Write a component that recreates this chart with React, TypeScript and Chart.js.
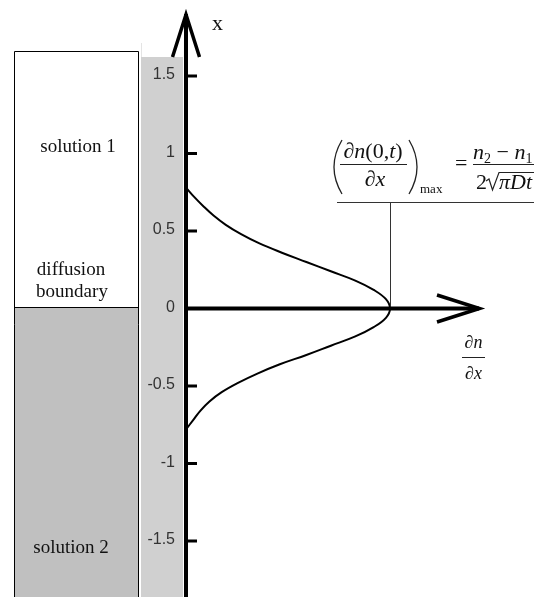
import React, { useEffect, useRef } from "react";
import { Chart, registerables } from "chart.js";

Chart.register(...registerables);

// vertical position x (value axis drawn vertically)
const positions = [0.78, 0.72, 0.66, 0.6, 0.54, 0.48, 0.42, 0.36, 0.3, 0.24, 0.18, 0.12, 0.06, 0, -0.06, -0.12, -0.18, -0.24, -0.3, -0.36, -0.42, -0.48, -0.54, -0.6, -0.66, -0.72, -0.78];
// concentration gradient dn/dx (relative to its maximum)
const gradient = [0, 0.04, 0.085, 0.135, 0.195, 0.27, 0.36, 0.47, 0.59, 0.71, 0.83, 0.92, 0.98, 1, 0.98, 0.92, 0.83, 0.71, 0.59, 0.46, 0.35, 0.255, 0.175, 0.115, 0.07, 0.035, 0];
const positionTicks = [1.5, 1, 0.5, 0, -0.5, -1, -1.5];
const tickLabels = ["1.5", "1", "0.5", "0", "-0.5", "-1", "-1.5"];
const peakPosition = 0;
const peakGradient = 1;
const formulaLevel = 0.69;
const boundaryPosition = 0;

const SERIF = '"Liberation Serif", "DejaVu Serif", serif';
const SANS = '"Liberation Sans", Arial, sans-serif';

type Run = { t: string; font: string; dy?: number };

function runsWidth(ctx: CanvasRenderingContext2D, runs: Run[]) {
  let w = 0;
  for (const r of runs) {
    ctx.font = r.font;
    w += ctx.measureText(r.t).width;
  }
  return w;
}

function drawRuns(ctx: CanvasRenderingContext2D, runs: Run[], x: number, baseline: number) {
  ctx.textAlign = "left";
  ctx.textBaseline = "alphabetic";
  let cx = x;
  for (const r of runs) {
    ctx.font = r.font;
    ctx.fillText(r.t, cx, baseline + (r.dy || 0));
    cx += ctx.measureText(r.t).width;
  }
  return cx;
}

const diagramPlugin = {
  id: "diagram",
  beforeDatasetsDraw(chart: any) {
    const ctx: CanvasRenderingContext2D = chart.ctx;
    const ys = chart.scales.y;
    const W = chart.width;
    const H = chart.height;
    ctx.save();
    ctx.fillStyle = "#ffffff";
    ctx.fillRect(0, 0, W, H);

    const yB = Math.round(ys.getPixelForValue(boundaryPosition)) - 2 + 0.5;

    // light gray strip behind tick labels
    ctx.fillStyle = "#d0d0d0";
    ctx.fillRect(141, 57, 42, H - 57);
    ctx.strokeStyle = "#e4e4e4";
    ctx.lineWidth = 1;
    ctx.beginPath();
    ctx.moveTo(141.5, 43);
    ctx.lineTo(141.5, 57);
    ctx.stroke();

    // solution 2 box (gray)
    ctx.fillStyle = "#c0c0c0";
    ctx.fillRect(14.5, yB, 124, H - yB);
    ctx.strokeStyle = "#000";
    ctx.lineWidth = 1;
    ctx.beginPath();
    ctx.moveTo(14.5, 51.5);
    ctx.lineTo(14.5, H);
    ctx.moveTo(138.5, 51.5);
    ctx.lineTo(138.5, H);
    ctx.moveTo(14.5, 51.5);
    ctx.lineTo(138.5, 51.5);
    ctx.moveTo(14.5, yB);
    ctx.lineTo(138.5, yB);
    ctx.stroke();

    ctx.fillStyle = "#111";
    ctx.font = `19px ${SERIF}`;
    ctx.textAlign = "center";
    ctx.textBaseline = "alphabetic";
    ctx.fillText("solution 1", 78, 152);
    ctx.fillText("diffusion", 71, 275);
    ctx.fillText("boundary", 72, 297);
    ctx.fillText("solution 2", 71, 553);

    // tick labels
    ctx.font = `16px ${SANS}`;
    ctx.fillStyle = "#333";
    ctx.textAlign = "right";
    ctx.textBaseline = "middle";
    positionTicks.forEach((v, i) => {
      ctx.fillText(tickLabels[i], 175, ys.getPixelForValue(v) - 1);
    });
    ctx.restore();
  },
  afterDatasetsDraw(chart: any) {
    const ctx: CanvasRenderingContext2D = chart.ctx;
    const xs = chart.scales.x;
    const ys = chart.scales.y;
    const H = chart.height;
    const Wc = chart.width;
    const x0 = xs.getPixelForValue(0);
    const y0 = ys.getPixelForValue(0);
    ctx.save();

    // peak marker and formula underline
    const px = Math.round(xs.getPixelForValue(peakGradient)) + 0.5;
    const fy = Math.round(ys.getPixelForValue(formulaLevel)) + 0.5;
    ctx.strokeStyle = "#333";
    ctx.lineWidth = 1;
    ctx.beginPath();
    ctx.moveTo(px, ys.getPixelForValue(peakPosition));
    ctx.lineTo(px, fy);
    ctx.moveTo(337, fy);
    ctx.lineTo(Wc, fy);
    ctx.stroke();

    // axes
    ctx.strokeStyle = "#000";
    ctx.lineWidth = 4;
    ctx.lineCap = "butt";
    ctx.beginPath();
    ctx.moveTo(x0, H);
    ctx.lineTo(x0, 14);
    ctx.moveTo(x0, y0);
    ctx.lineTo(479, y0);
    ctx.stroke();

    ctx.lineWidth = 3.5;
    ctx.lineJoin = "miter";
    ctx.miterLimit = 20;
    ctx.beginPath();
    ctx.moveTo(x0 - 13.5, 57);
    ctx.lineTo(x0, 14.5);
    ctx.lineTo(x0 + 13.5, 57);
    ctx.stroke();
    ctx.beginPath();
    ctx.moveTo(437, y0 - 13.5);
    ctx.lineTo(479.5, y0);
    ctx.lineTo(437, y0 + 13.5);
    ctx.stroke();

    // ticks
    ctx.lineWidth = 3;
    ctx.beginPath();
    positionTicks.forEach((v) => {
      const y = ys.getPixelForValue(v);
      ctx.moveTo(x0, y);
      ctx.lineTo(197, y);
    });
    ctx.stroke();

    // axis labels
    ctx.fillStyle = "#111";
    ctx.font = `22px ${SERIF}`;
    ctx.textAlign = "left";
    ctx.textBaseline = "alphabetic";
    ctx.fillText("x", 212, 30);

    const it18 = `italic 18px ${SERIF}`;
    ctx.textAlign = "center";
    ctx.font = it18;
    ctx.fillText("\u2202n", 473.5, 348);
    ctx.fillText("\u2202x", 473.5, 379);
    ctx.strokeStyle = "#222";
    ctx.lineWidth = 1;
    ctx.beginPath();
    ctx.moveTo(462, 357.5);
    ctx.lineTo(485, 357.5);
    ctx.stroke();

    // formula
    const it = `italic 22px ${SERIF}`;
    const up = `22px ${SERIF}`;
    const sub = `14px ${SERIF}`;
    const num: Run[] = [
      { t: "\u2202", font: it },
      { t: "n", font: it },
      { t: "(0,", font: up },
      { t: "t", font: it },
      { t: ")", font: up },
    ];
    const nw = runsWidth(ctx, num);
    drawRuns(ctx, num, 373 - nw / 2, 158);
    const den: Run[] = [{ t: "\u2202x", font: it }];
    const dw = runsWidth(ctx, den);
    drawRuns(ctx, den, 375 - dw / 2, 186);
    ctx.beginPath();
    ctx.moveTo(340, 164.5);
    ctx.lineTo(407, 164.5);
    ctx.moveTo(473, 164.5);
    ctx.lineTo(Wc, 164.5);
    ctx.stroke();

    // big parentheses
    ctx.lineWidth = 1.3;
    ctx.beginPath();
    ctx.moveTo(342, 140);
    ctx.quadraticCurveTo(326, 167, 342, 194);
    ctx.moveTo(409, 140);
    ctx.quadraticCurveTo(425, 167, 409, 194);
    ctx.stroke();

    drawRuns(ctx, [{ t: "max", font: `13px ${SERIF}` }], 420, 193);
    drawRuns(ctx, [{ t: "=", font: up }], 455, 170);

    drawRuns(
      ctx,
      [
        { t: "n", font: it },
        { t: "2", font: sub, dy: 4 },
        { t: " \u2212 ", font: up },
        { t: "n", font: it },
        { t: "1", font: sub, dy: 4 },
      ],
      473,
      159
    );
    drawRuns(ctx, [{ t: "2", font: up }], 476, 189);
    ctx.lineWidth = 1.2;
    ctx.beginPath();
    ctx.moveTo(486, 181);
    ctx.lineTo(489, 179);
    ctx.lineTo(492.5, 190);
    ctx.lineTo(499, 172.5);
    ctx.lineTo(Wc, 172.5);
    ctx.stroke();
    drawRuns(
      ctx,
      [
        { t: "\u03c0", font: it },
        { t: "Dt", font: it },
      ],
      499,
      189
    );
    ctx.restore();
  },
};

export default function App() {
  const ref = useRef<HTMLCanvasElement | null>(null);
  useEffect(() => {
    if (!ref.current) return;
    const W = 534;
    const H = 597;
    const originX = 186;
    const pxPerGrad = 204;
    const originY = 308.5;
    const pxPerPos = 155;
    const chart = new Chart(ref.current, {
      type: "scatter",
      data: {
        datasets: [
          {
            data: positions.map((p, i) => ({ x: gradient[i], y: p })),
            showLine: true,
            borderColor: "#000",
            borderWidth: 2,
            pointRadius: 0,
            tension: 0.4,
            fill: false,
          },
        ],
      },
      options: {
        animation: false,
        responsive: false,
        devicePixelRatio: 1,
        events: [],
        layout: { padding: 0 },
        plugins: { legend: { display: false }, tooltip: { enabled: false } },
        scales: {
          x: {
            type: "linear",
            display: false,
            min: -originX / pxPerGrad,
            max: (W - originX) / pxPerGrad,
          },
          y: {
            type: "linear",
            display: false,
            min: -(H - originY) / pxPerPos,
            max: originY / pxPerPos,
          },
        },
      },
      plugins: [diagramPlugin],
    });
    return () => chart.destroy();
  }, []);
  return (
    <div style={{ position: "absolute", left: 0, top: 0, width: 534, height: 597 }}>
      <canvas ref={ref} width={534} height={597} style={{ display: "block" }} />
    </div>
  );
}
